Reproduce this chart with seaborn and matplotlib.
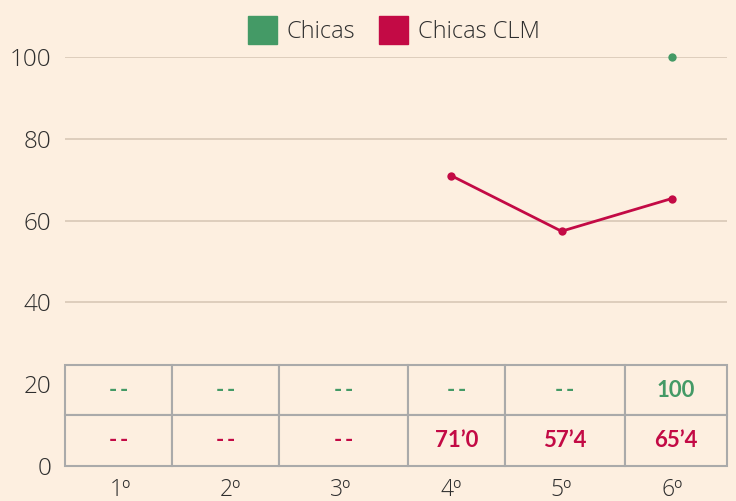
import pandas as pd
import numpy as np
import matplotlib
matplotlib.use('Agg')
import matplotlib.pyplot as plt
import seaborn as sns
from matplotlib.patches import Patch

# --- Data ---
cursos = ['1º', '2º', '3º', '4º', '5º', '6º']
chicas = [np.nan, np.nan, np.nan, np.nan, np.nan, 100]
chicas_clm = [np.nan, np.nan, np.nan, 71.0, 57.4, 65.4]
tabla_chicas = ['--', '--', '--', '--', '--', '100']
tabla_clm = ['--', '--', '--', '71’0', '57’4', '65’4']
series = ['Chicas', 'Chicas CLM']

# --- Style ---
bg = '#fdefe0'
green = '#449a66'
crimson = '#c30a45'
grid_col = '#d8c8b6'
border_col = '#aaaaaa'
text_col = '#2e2e2e'

sns.set_theme(style='white')
plt.rcParams['font.family'] = ['Open Sans', 'DejaVu Sans']

df = pd.DataFrame({
    'pos': list(range(len(cursos))) * 2,
    'valor': chicas + chicas_clm,
    'serie': [series[0]] * len(cursos) + [series[1]] * len(cursos),
}).dropna()

fig = plt.figure(figsize=(7.36, 5.01), dpi=100, facecolor=bg)
ax = fig.add_axes([0.0883, 0.0699, 0.8995, 0.8163])
ax.set_facecolor(bg)

sns.lineplot(data=df, x='pos', y='valor', hue='serie', hue_order=series,
             palette=[green, crimson], marker='o', markersize=6, markeredgewidth=0,
             linewidth=2, legend=False, ax=ax, clip_on=False, zorder=3)

ax.set_xlim(-0.5, len(cursos) - 0.5)
ax.set_ylim(0, 100)
ax.set_yticks([0, 20, 40, 60, 80, 100])
ax.set_xticks(range(len(cursos)))
ax.set_xticklabels(cursos)
ax.tick_params(axis='y', length=0, labelsize=17.5, labelcolor=text_col, pad=10)
ax.tick_params(axis='x', length=0, labelsize=16.5, labelcolor=text_col, pad=9)
for lbl in ax.get_yticklabels() + ax.get_xticklabels():
    lbl.set_fontweight('light')
ax.set_xlabel('')
ax.set_ylabel('')
for s in ax.spines.values():
    s.set_visible(False)
ax.yaxis.grid(True, color=grid_col, linewidth=1.2, zorder=0)
ax.set_axisbelow(True)

# --- Table inside plot area ---
col_w = [107, 107, 129, 97, 120, 102]
col_w = [w / sum(col_w) for w in col_w]
celdas = [[v.replace('--', '-\u2009-') for v in fila] for fila in (tabla_chicas, tabla_clm)]
tbl = ax.table(cellText=celdas, colWidths=col_w,
               cellLoc='center', bbox=[0, 0, 1, 0.247], zorder=4)
tbl.auto_set_font_size(False)
for (r, c), cell in tbl.get_celld().items():
    cell.set_facecolor(bg)
    cell.set_edgecolor(border_col)
    cell.set_linewidth(1.5)
    t = cell.get_text()
    t.set_fontsize(16)
    t.set_fontweight('bold')
    t.set_fontfamily(['Lato', 'DejaVu Sans'])
    t.set_color(green if r == 0 else crimson)

# --- Legend ---
handles = [Patch(facecolor=green, edgecolor=green), Patch(facecolor=crimson, edgecolor=crimson)]
leg = fig.legend(handles, series, loc='upper center', bbox_to_anchor=(0.535, 1.01), ncol=2,
                 frameon=False, fontsize=17, handlelength=1.25, handleheight=1.4,
                 handletextpad=0.4, columnspacing=1.0)
for t in leg.get_texts():
    t.set_color(text_col)
    t.set_fontweight('light')

fig.savefig('out.png', dpi=100, facecolor=bg)
